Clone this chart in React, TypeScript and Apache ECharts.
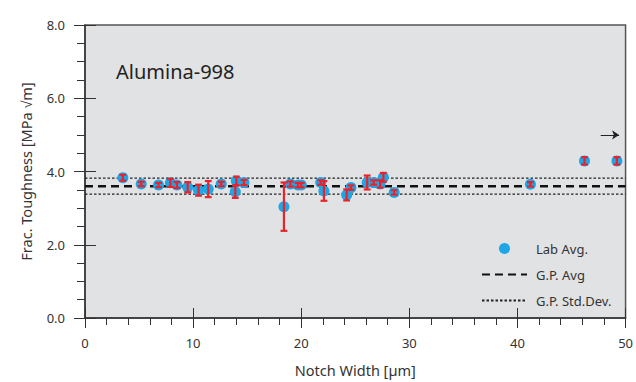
import React, { useEffect, useRef } from "react";
import * as echarts from "echarts";

// Lab averages: notch width (µm), fracture toughness (MPa√m), half error bar
const notchWidth = [3.5, 5.2, 6.8, 7.9, 8.5, 9.5, 10.5, 11.4, 12.6, 14.0, 13.9, 14.7, 18.4, 19.0, 19.7, 20.0, 21.8, 22.1, 24.2, 24.6, 26.1, 26.7, 27.6, 27.3, 28.6, 41.2, 46.2, 49.2];
const toughness = [3.83, 3.66, 3.63, 3.69, 3.63, 3.57, 3.49, 3.52, 3.66, 3.74, 3.45, 3.70, 3.04, 3.66, 3.63, 3.63, 3.70, 3.47, 3.36, 3.56, 3.70, 3.70, 3.84, 3.66, 3.43, 3.65, 4.29, 4.29];
const errorHalf = [0.08, 0.06, 0.06, 0.11, 0.08, 0.14, 0.15, 0.22, 0.06, 0.12, 0.17, 0.07, 0.66, 0.07, 0.06, 0.06, 0.06, 0.27, 0.15, 0.06, 0.19, 0.06, 0.12, 0.1, 0.06, 0.06, 0.1, 0.1];

const gpAvg = 3.6;
const gpStdUpper = 3.82;
const gpStdLower = 3.38;
const xRange = [0, 50];
const arrowFrom = [47.7, 5.0];
const arrowTo = [49.4, 5.0];

const BLUE = "#1ea6e6";
const RED = "#e8232b";
const AXIS = "#333333";
const FONT = "Noto Sans";

export default function App() {
  const ref = useRef<HTMLDivElement>(null);
  useEffect(() => {
    if (!ref.current) return;
    const chart = echarts.init(ref.current, undefined, { renderer: "svg" });
    const pts = notchWidth.map((x, i) => [x, toughness[i], errorHalf[i]]);
    const axisFont = { fontFamily: FONT, fontSize: 13, color: "#333" };
    const hidden = { opacity: 0, color: "transparent", borderWidth: 0 };
    chart.setOption({
      animation: false,
      textStyle: { fontFamily: FONT },
      grid: {
        left: 85, right: 6, top: 25, bottom: 61,
        show: true, backgroundColor: "#e1e2e4",
        borderColor: "#555", borderWidth: 1.5,
      },
      title: {
        text: "Alumina-998", left: 111, top: 56,
        textStyle: { fontFamily: FONT, fontSize: 20, fontWeight: "normal", color: "#222" },
      },
      legend: {
        data: [
          { name: "Lab Avg." },
          { name: "G.P. Avg", itemStyle: hidden },
          { name: "G.P. Std.Dev.", itemStyle: hidden },
        ],
        orient: "vertical", left: 476, top: 237,
        itemWidth: 45, itemHeight: 11, itemGap: 13,
        textStyle: { fontFamily: FONT, fontSize: 13, color: "#333", padding: [0, 0, 0, 4] },
      },
      xAxis: [
        {
          type: "value", min: xRange[0], max: xRange[1], interval: 10,
          name: "Notch Width [µm]", nameLocation: "middle", nameGap: 44,
          nameTextStyle: { ...axisFont, fontSize: 14.5 },
          axisLine: { show: true, onZero: false, lineStyle: { color: AXIS, width: 1.5 } },
          axisTick: { show: true, inside: false, length: 10, lineStyle: { color: AXIS, width: 1 } },
          minorTick: { show: true, splitNumber: 5, length: 7, lineStyle: { color: AXIS, width: 1 } },
          axisLabel: { ...axisFont, margin: 18 },
          splitLine: { show: false },
        },
        {
          type: "value", min: xRange[0], max: xRange[1], interval: 10, position: "bottom",
          axisLine: { show: false },
          axisTick: { show: true, inside: true, length: 10, lineStyle: { color: AXIS, width: 1 } },
          axisLabel: { show: false },
          splitLine: { show: false },
        },
      ],
      yAxis: [
        {
          type: "value", min: 0, max: 8, interval: 2,
          name: "Frac. Toughness [MPa √m]", nameLocation: "middle", nameGap: 52,
          nameTextStyle: { ...axisFont, fontSize: 14.5 },
          axisLine: { show: true, onZero: false, lineStyle: { color: AXIS, width: 1.5 } },
          axisTick: { show: true, inside: false, length: 11, lineStyle: { color: AXIS, width: 1 } },
          minorTick: { show: true, splitNumber: 4, length: 8, lineStyle: { color: AXIS, width: 1 } },
          axisLabel: { ...axisFont, margin: 20, formatter: (v: number) => v.toFixed(1) },
          splitLine: { show: false },
        },
        {
          type: "value", min: 0, max: 8, interval: 2, position: "left",
          axisLine: { show: false },
          axisTick: { show: true, inside: true, length: 11, lineStyle: { color: AXIS, width: 1 } },
          axisLabel: { show: false },
          splitLine: { show: false },
        },
      ],
      series: [
        {
          name: "G.P. Avg", type: "line", symbol: "none", z: 1,
          data: [[xRange[0], gpAvg], [xRange[1], gpAvg]],
          lineStyle: { color: "#111", width: 2.5, type: [8, 5] },
          itemStyle: { color: "#111" },
        },
        {
          name: "G.P. Std.Dev.", type: "line", symbol: "none", z: 1,
          data: [[xRange[0], gpStdUpper], [xRange[1], gpStdUpper]],
          lineStyle: { color: "#222", width: 1.2, type: [2.5, 2] },
          itemStyle: { color: "#222" },
        },
        {
          name: "G.P. Std.Dev.", type: "line", symbol: "none", z: 1,
          data: [[xRange[0], gpStdLower], [xRange[1], gpStdLower]],
          lineStyle: { color: "#222", width: 1.2, type: [2.5, 2] },
          itemStyle: { color: "#222" },
        },
        {
          name: "Lab Avg.", type: "scatter", symbol: "circle", symbolSize: 11, z: 2,
          data: pts.map((p) => [p[0], p[1]]),
          itemStyle: { color: BLUE, opacity: 1 },
          markLine: {
            silent: true, symbol: ["none", "arrow"], symbolSize: 7,
            label: { show: false },
            lineStyle: { color: "#222", width: 1, type: "solid" },
            data: [[{ coord: arrowFrom }, { coord: arrowTo }]],
          },
        },
        {
          name: "err", type: "custom", z: 3,
          data: pts,
          encode: { x: 0, y: 1 },
          renderItem: (_params: any, api: any) => {
            const x = api.value(0), y = api.value(1), e = api.value(2);
            const top = api.coord([x, y + e]);
            const bot = api.coord([x, y - e]);
            const hw = 3.4;
            const st = { stroke: RED, lineWidth: 2.2 };
            return {
              type: "group",
              children: [
                { type: "line", shape: { x1: top[0], y1: top[1], x2: bot[0], y2: bot[1] }, style: st },
                { type: "line", shape: { x1: top[0] - hw, y1: top[1], x2: top[0] + hw, y2: top[1] }, style: st },
                { type: "line", shape: { x1: bot[0] - hw, y1: bot[1], x2: bot[0] + hw, y2: bot[1] }, style: st },
              ],
            };
          },
        },
      ],
    });
    return () => chart.dispose();
  }, []);
  return <div ref={ref} style={{ width: 636, height: 382, position: "fixed", left: 0, top: 0, background: "#fff" }} />;
}
